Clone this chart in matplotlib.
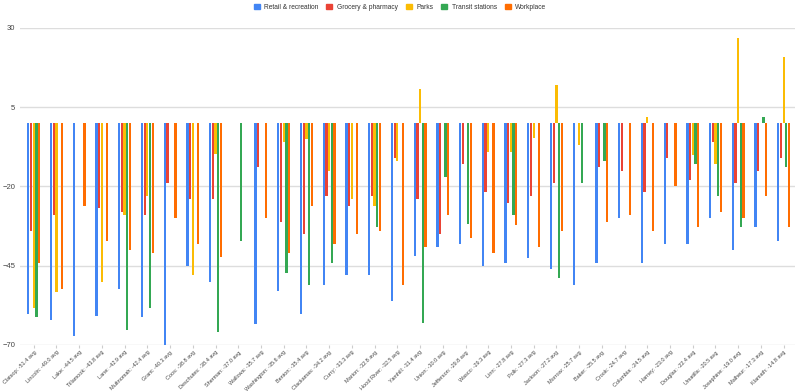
import numpy as np
import matplotlib
matplotlib.use('Agg')
import matplotlib.pyplot as plt
from matplotlib.patches import Patch

nan = np.nan

counties = ['Clatsop', 'Lincoln', 'Lake', 'Tillamook', 'Lane', 'Multnomah', 'Grant',
            'Coos', 'Deschutes', 'Sherman', 'Wallowa', 'Washington', 'Benton',
            'Clackamas', 'Curry', 'Marion', 'Hood River', 'Yamhill', 'Union',
            'Jefferson', 'Wasco', 'Linn', 'Polk', 'Jackson', 'Morrow', 'Baker',
            'Crook', 'Columbia', 'Harney', 'Douglas', 'Umatilla', 'Josephine',
            'Malheur', 'Klamath']
avgs = ['-51.4', '-49.0', '-44.5', '-43.8', '-42.9', '-42.4', '-40.3', '-38.8', '-38.4',
        '-37.0', '-35.7', '-35.6', '-35.4', '-34.2', '-33.3', '-32.8', '-32.5', '-31.4',
        '-30.0', '-29.8', '-29.3', '-27.8', '-27.3', '-27.2', '-25.7', '-25.5', '-24.7',
        '-24.5', '-23.0', '-22.4', '-20.5', '-19.0', '-17.3', '-14.8']

retail = [-60.1, -62.0, -67.1, -61.0, -52.2, -61.2, -70.1, -45.0, -50.1, nan, -63.3,
          -53.1, -60.1, -51.0, -48.0, -48.0, -56.1, -42.0, -39.0, -38.0, -45.0, -44.0,
          -42.5, -45.9, -51.2, -44.0, -30.1, -44.0, -38.0, -38.0, -30.1, -40.1, -32.9, -37.1]
grocery = [-34.0, -29.0, nan, -26.9, -28.0, -29.0, -19.0, -24.1, -24.1, nan, -14.0,
           -31.1, -35.0, -23.0, -26.2, -23.0, -10.9, -24.1, -35.0, -13.0, -21.9, -25.1,
           -22.9, -19.0, nan, -13.9, -15.0, -21.9, -10.9, -17.9, -6.0, -19.0, -15.0, -10.9]
parks = [-58.2, -53.3, nan, -50.1, -29.0, -23.0, nan, -48.0, -9.8, nan, nan,
         -6.0, -5.0, -15.0, -24.1, -26.2, -11.9, 10.8, nan, nan, -9.0, -9.0,
         -4.7, 11.9, -6.9, nan, nan, 1.9, nan, -10.0, -13.0, 26.9, nan, 20.9]
transit = [-61.2, nan, nan, nan, -65.2, -58.2, nan, nan, -65.9, -37.1, nan,
           -47.2, -51.0, -44.0, nan, -32.9, nan, -63.1, -17.1, -31.9, nan, -29.0,
           nan, -48.8, -19.0, -11.9, nan, nan, nan, -13.0, -22.9, -32.9, 1.9, -13.9]
workplace = [-44.0, -52.2, -26.2, -37.1, -40.1, -41.1, -30.1, -38.0, -42.2, nan, -30.1,
             -41.1, -26.2, -38.0, -35.0, -34.0, -51.0, -39.0, -29.0, -36.1, -41.1, -32.0,
             -39.0, -34.0, nan, -31.1, -29.0, -34.0, -20.0, -32.9, -28.0, -30.1, -22.9, -32.9]

series = [('Retail & recreation', retail, '#4285F4'),
          ('Grocery & pharmacy', grocery, '#EA4335'),
          ('Parks', parks, '#FBBC04'),
          ('Transit stations', transit, '#34A853'),
          ('Workplace', workplace, '#FF6D01')]

plt.rcParams['font.family'] = ['Liberation Sans', 'DejaVu Sans']

fig = plt.figure(figsize=(8, 3.92), dpi=100)
ax = fig.add_axes([0.0245, 0.12, 0.9693, 0.8086])

x = np.arange(len(counties))
step = 0.118
for k, (name, vals, col) in enumerate(series):
    ax.bar(x + (k - 2) * step, vals, width=0.1, color=col, label=name, zorder=3)

ax.set_ylim(-70, 30)
ax.set_xlim(-0.62, len(counties) - 0.5)
ax.set_yticks([-70, -45, -20, 5, 30])
ax.grid(axis='y', color='#dddddd', lw=1, zorder=0)
for s in ax.spines.values():
    s.set_visible(False)
ax.tick_params(axis='y', length=0, labelsize=5.5, labelcolor='#444444', pad=3)
ax.set_xticks(x)
ax.set_xticklabels([f'{c}: {a} avg' for c, a in zip(counties, avgs)],
                   rotation=45, ha='right', rotation_mode='anchor',
                   fontsize=4.0, color='#444444')
ax.tick_params(axis='x', length=2, color='#cccccc', pad=1.5)

handles = [Patch(color=c, label=n) for n, _, c in series]
fig.legend(handles=handles, loc='center', bbox_to_anchor=(0.5, 0.981), ncol=5,
           frameon=False, fontsize=4.8, handlelength=0.9, handleheight=0.9,
           handletextpad=0.7, columnspacing=1.15, labelcolor='#333333')

fig.savefig('out.png', dpi=100)
